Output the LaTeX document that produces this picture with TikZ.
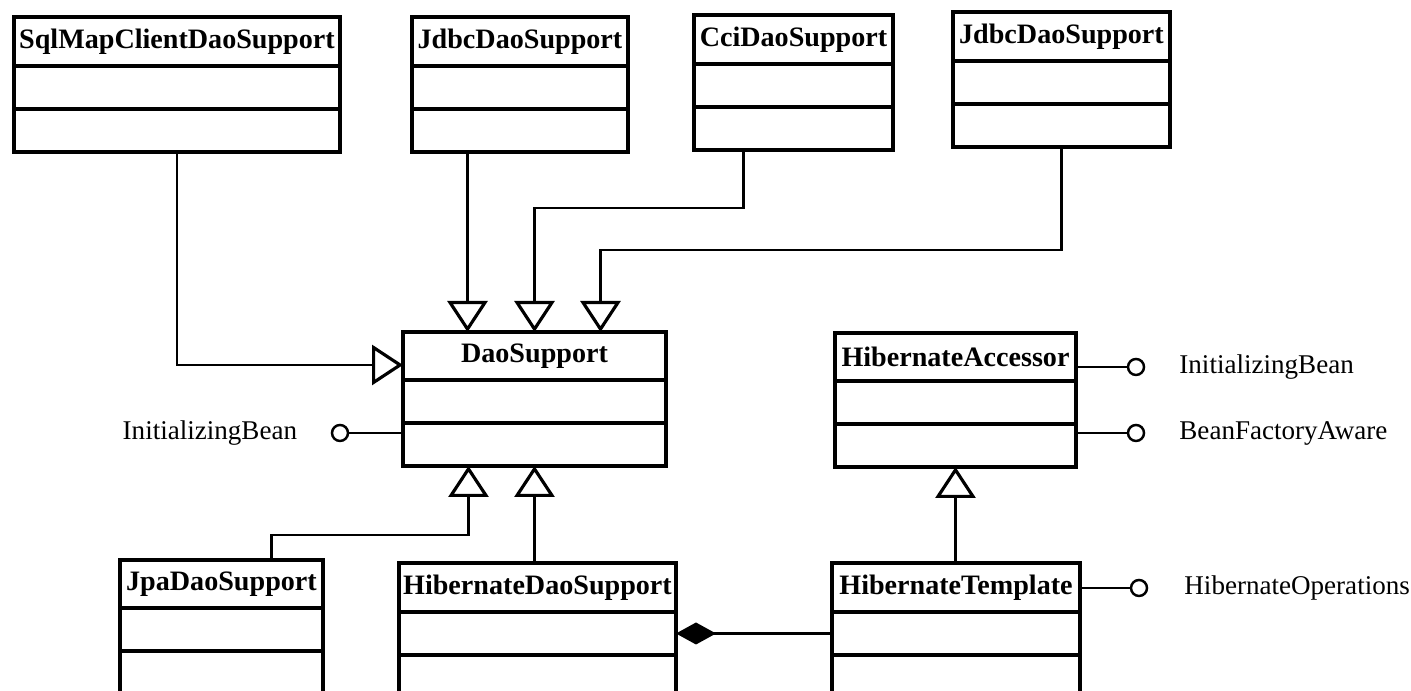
\documentclass[tikz,border=0pt]{standalone}
\usepackage{fontspec}
\setmainfont{Liberation Serif}
\usetikzlibrary{positioning,arrows.meta}

\begin{document}
\begin{tikzpicture}
% 1. Rahmen festlegen
\useasboundingbox (0,0) rectangle (14.11,-6.91);
\clip (0,0) rectangle (14.11,-6.91);

% 2. Stile definieren
\tikzset{
  head/.style={
    draw, line width=0.9pt, outer sep=0pt, inner sep=0pt,
    anchor=north west, minimum height=0.49cm,
    font=\fontsize{8}{9.6}\selectfont\bfseries
  },
  part/.style={
    draw, line width=0.9pt, outer sep=0pt, inner sep=0pt,
    minimum height=0.43cm
  },
  conn/.style={line width=0.7pt},
  inherit/.style={
    conn,
    -{Triangle[open, length=0.31cm, width=0.40cm, line width=0.9pt]}
  },
  compose/.style={conn, {Diamond[length=0.40cm, width=0.22cm]}-},
  lolli/.style={draw, circle, line width=0.7pt, fill=white, inner sep=0pt, minimum size=0.16cm},
  iface/.style={inner sep=0pt, font=\fontsize{7.7}{9}\selectfont}
}

% 3. Klassen oben
\node [head, minimum width=3.26cm] (sql) at (0.14,-0.17) {SqlMapClientDaoSupport};
\node [part, minimum width=3.26cm, below=0pt of sql] (sql-attr) {};
\node [part, minimum width=3.26cm, below=0pt of sql-attr] (sql-ops) {};

\node [head, minimum width=2.16cm] (jdbc1) at (4.12,-0.17) {JdbcDaoSupport};
\node [part, minimum width=2.16cm, below=0pt of jdbc1] (jdbc1-attr) {};
\node [part, minimum width=2.16cm, below=0pt of jdbc1-attr] (jdbc1-ops) {};

\node [head, minimum width=1.99cm] (cci) at (6.94,-0.15) {CciDaoSupport};
\node [part, minimum width=1.99cm, below=0pt of cci] (cci-attr) {};
\node [part, minimum width=1.99cm, below=0pt of cci-attr] (cci-ops) {};

\node [head, minimum width=2.17cm] (jdbc2) at (9.53,-0.12) {JdbcDaoSupport};
\node [part, minimum width=2.17cm, below=0pt of jdbc2] (jdbc2-attr) {};
\node [part, minimum width=2.17cm, below=0pt of jdbc2-attr] (jdbc2-ops) {};

% 4. Klassen in der Mitte
\node [head, minimum width=2.63cm, minimum height=0.48cm] (dao) at (4.03,-3.32) {DaoSupport};
\node [part, minimum width=2.63cm, below=0pt of dao] (dao-attr) {};
\node [part, minimum width=2.63cm, below=0pt of dao-attr] (dao-ops) {};

\node [head, minimum width=2.41cm, minimum height=0.48cm] (hacc) at (8.35,-3.33) {HibernateAccessor};
\node [part, minimum width=2.41cm, below=0pt of hacc] (hacc-attr) {};
\node [part, minimum width=2.41cm, below=0pt of hacc-attr] (hacc-ops) {};

% 5. Klassen unten
\node [head, minimum width=2.03cm, minimum height=0.48cm] (jpa) at (1.20,-5.60) {JpaDaoSupport};
\node [part, minimum width=2.03cm, below=0pt of jpa] (jpa-attr) {};
\node [part, minimum width=2.03cm, minimum height=0.6cm, below=0pt of jpa-attr] (jpa-ops) {};

\node [head, minimum width=2.77cm] (hds) at (3.99,-5.63) {HibernateDaoSupport};
\node [part, minimum width=2.77cm, below=0pt of hds] (hds-attr) {};
\node [part, minimum width=2.77cm, minimum height=0.6cm, below=0pt of hds-attr] (hds-ops) {};

\node [head, minimum width=2.48cm] (htpl) at (8.32,-5.63) {HibernateTemplate};
\node [part, minimum width=2.48cm, below=0pt of htpl] (htpl-attr) {};
\node [part, minimum width=2.48cm, minimum height=0.6cm, below=0pt of htpl-attr] (htpl-ops) {};

% 6. Hilfspunkte
\coordinate (d1) at ([xshift=-0.67cm]dao.north);
\coordinate (d3) at ([xshift=0.66cm]dao.north);
\coordinate (k1) at ([yshift=1.24cm]dao.north);
\coordinate (k2) at ([yshift=0.82cm]d3);
\coordinate (u1) at ([xshift=-0.66cm]dao-ops.south);
\coordinate (k3) at ([yshift=-0.69cm]u1);

% 7. Vererbung
\draw [inherit] (sql-ops.south) |- ([yshift=-0.09cm]dao.west);
\draw [inherit] (jdbc1-ops.south -| d1) -- (d1);
\draw [inherit] ([xshift=-0.50cm]cci-ops.south) |- (k1) -- (dao.north);
\draw [inherit] (jdbc2-ops.south) |- (k2) -- (d3);
\draw [inherit] ([xshift=0.50cm]jpa.north) |- (k3) -- (u1);
\draw [inherit] (hds.north -| dao-ops.south) -- (dao-ops.south);
\draw [inherit] (htpl.north -| hacc-ops.south) -- (hacc-ops.south);

% 8. Komposition
\draw [compose] (hds-attr.east) -- (htpl-attr.west);

% 9. Schnittstellen
\node [lolli] (ib1) at (3.40,-4.33) {};
\node [iface, left=0.33cm of ib1] (ib1-l) {InitializingBean};
\draw [conn] (ib1) -- (ib1 -| dao-ops.west);

\node [lolli] (ib2) at (11.36,-3.67) {};
\node [iface, right=0.335cm of ib2] (ib2-l) {InitializingBean};
\draw [conn] (ib2 -| hacc.east) -- (ib2);

\node [lolli] (bfa) at (11.36,-4.33) {};
\node [iface, right=0.335cm of bfa] (bfa-l) {BeanFactoryAware};
\draw [conn] (bfa -| hacc-ops.east) -- (bfa);

\node [lolli] (hop) at (11.39,-5.88) {};
\node [iface, right=0.355cm of hop] (hop-l) {HibernateOperations};
\draw [conn] (hop -| htpl.east) -- (hop);

\end{tikzpicture}
\end{document}
